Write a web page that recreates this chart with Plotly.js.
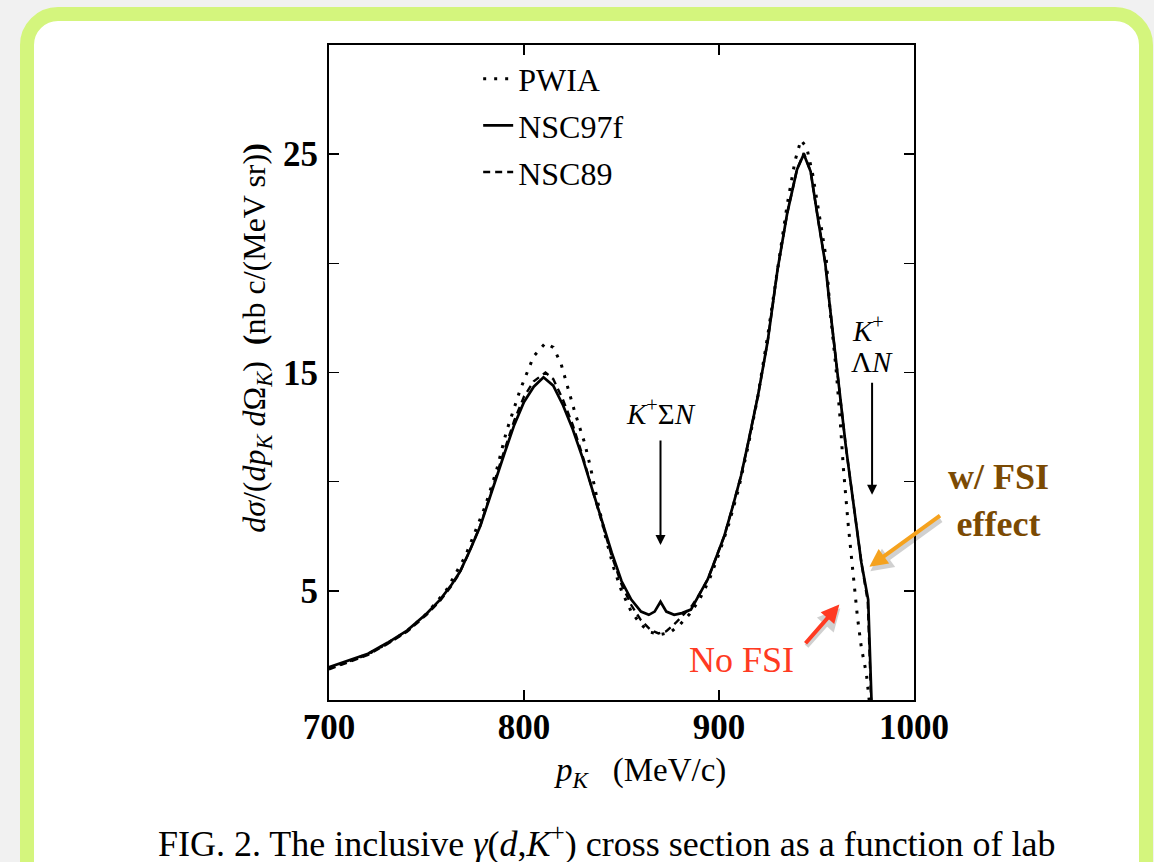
<!DOCTYPE html>
<html>
<head>
<meta charset="utf-8">
<script src="https://cdn.plot.ly/plotly-3.0.1.min.js"></script>
<style>
  html, body { margin: 0; padding: 0; width: 1154px; height: 862px; overflow: hidden; background: #f1f1f1; }
  #frame { position: absolute; left: 20px; top: 7px; width: 1105px; height: 920px;
           border: 14px solid #d4f57d; border-radius: 38px; background: #ffffff; }
  #chart { position: absolute; left: 0; top: 0; width: 1154px; height: 862px; }
</style>
</head>
<body>
<div id="frame"></div>
<div id="chart"></div>
<script>
// ---- data ----
const seriesNames = ["PWIA", "NSC97f", "NSC89"];

const pK_PWIA = [700,710,720,730,740,750,760,770,780,786,791,798,805,811,815,819,822,826,831,834,838,842,846,850,855,860,865,870,875,880,885,890,895,900,905,910,915,920,925,930,935,939,942,945,948,952,955,957,960,962,963.8,966.3,968.9,971,973,975.6,977];
const sig_PWIA = [1.45,1.78,2.1,2.6,3.15,3.95,5.0,6.6,8.85,10.55,12.3,14.2,15.75,16.35,16.15,15.4,14.45,13.2,11.8,10.7,9.0,7.4,6.05,5.0,4.05,3.45,3.1,3.0,3.1,3.45,3.95,4.6,5.5,6.7,8.05,9.65,11.65,13.95,16.7,19.8,22.7,24.7,25.65,25.3,24.1,21.9,20.2,17.8,15.2,13.0,10.6,8.0,5.5,3.8,2.4,1.2,0];

const pK_NSC97f = [700,710,720,730,740,750,757,763,767,772,777.6,782,786,790,795,800,805,810,815,820,825,830,835,840,845,850,855,860,864,867,870,873,877,881,885.6,890,894.2,898,902.7,907,911.3,915,920,925,930,935,940,943.5,947,951,954.5,957,959,960.5,962,963.5,965,967,970,973,976.5,977.5,978.2];
const sig_NSC97f = [1.5,1.82,2.12,2.62,3.18,3.95,4.6,5.3,5.85,6.8,7.97,9.15,10.25,11.3,12.6,13.65,14.35,14.78,14.4,13.5,12.4,11.1,9.65,8.2,6.75,5.45,4.6,4.05,3.9,4.05,4.5,4.05,3.9,3.98,4.14,4.85,5.52,6.4,7.51,8.85,10.27,11.8,13.95,16.45,19.7,22.3,24.3,25.0,24.2,21.9,20.0,17.9,16.3,15.1,13.9,12.75,11.65,10.3,8.3,6.3,4.6,2.0,0];

const pK_NSC89 = [700,710,720,730,740,750,757,763,767,772,777.6,782,786,790,795,800,805,811,815,820,825,830,835,840,845,850,855,860,865,869,873,878,882,886,890,894.2,898,902.7,907,911.3,915,920,925,930,935,940,943.5,947,951,954.5,957,959,960.5,962,963.5,965,967,970,973,976.3,977.3,978];
const sig_NSC89 = [1.4,1.75,2.07,2.57,3.13,3.9,4.55,5.25,5.82,6.8,7.99,9.2,10.35,11.45,12.8,13.9,14.6,15.0,14.7,13.75,12.6,11.2,9.65,8.1,6.6,5.3,4.35,3.65,3.2,3.05,3.15,3.55,3.95,4.3,4.85,5.52,6.4,7.51,8.85,10.27,11.8,13.95,16.45,19.7,22.3,24.3,25.05,24.2,21.9,20.0,17.9,16.3,15.1,13.9,12.75,11.65,10.3,8.3,6.3,4.5,2.0,0];

const xTickVals = [700, 800, 900, 1000];
const xTickText = ["700", "800", "900", "1000"];
const yTickVals = [5, 10, 15, 20, 25];
const yTickText = ["5", "", "15", "", "25"];

const SERIF = "Liberation Serif, Times New Roman, serif";

const traces = [
  { x: pK_NSC89, y: sig_NSC89, name: seriesNames[2], mode: "lines", legendgroup: "c", legendrank: 3,
    line: { color: "#000", width: 2.4, dash: "7px,5px" } },
  { x: pK_PWIA, y: sig_PWIA, name: seriesNames[0], mode: "lines", legendgroup: "a", legendrank: 1,
    line: { color: "#000", width: 3, dash: "3px,8px" } },
  { x: pK_NSC97f, y: sig_NSC97f, name: seriesNames[1], mode: "lines", legendgroup: "b", legendrank: 2,
    line: { color: "#000", width: 2.7 } }
];

const axisCommon = {
  showline: true, linecolor: "#000", linewidth: 2, mirror: "ticks",
  ticks: "inside", ticklen: 10, tickwidth: 1.5, tickcolor: "#000",
  showgrid: false, zeroline: false,
  tickfont: { family: SERIF, size: 35, color: "#000", weight: "bold" }
};

const layout = {
  width: 1154, height: 862,
  paper_bgcolor: "rgba(0,0,0,0)", plot_bgcolor: "rgba(0,0,0,0)",
  margin: { l: 329, r: 240, t: 45, b: 162 },
  showlegend: true,
  legend: {
    x: 0.255, y: 0.99, xanchor: "left", yanchor: "top",
    bgcolor: "rgba(0,0,0,0)", borderwidth: 0,
    font: { family: SERIF, size: 32, color: "#000" },
    traceorder: "grouped", tracegroupgap: 2
  },
  xaxis: Object.assign({}, axisCommon, {
    range: [700, 1000], tickmode: "array", tickvals: xTickVals, ticktext: xTickText,
    ticklabelstandoff: -5
  }),
  yaxis: Object.assign({}, axisCommon, {
    range: [0, 30], tickmode: "array", tickvals: yTickVals, ticktext: yTickText,
    ticklabelstandoff: 2
  }),
  annotations: [
    // axis titles
    { xref: "paper", yref: "paper", x: 0.5316, y: -0.111, xanchor: "center", yanchor: "middle", showarrow: false,
      text: "<i>p<sub>K</sub></i>   (MeV/c)", font: { family: SERIF, size: 33, color: "#000" } },
    { xref: "paper", yref: "paper", x: -0.123, y: 0.553, xanchor: "center", yanchor: "middle", showarrow: false, textangle: -90,
      text: "<i>dσ</i>/(<i>dp<sub>K</sub> d</i>Ω<sub><i>K</i></sub>)  <b>(</b>nb c/(MeV sr)<b>)</b>",
      font: { family: SERIF, size: 32, color: "#000" } },
    // threshold labels and arrows
    { x: 870, y: 13.2, showarrow: false, text: "<i>K</i><sup>+</sup>Σ<i>N</i>",
      font: { family: SERIF, size: 29, color: "#000" } },
    { x: 870, y: 7.1, ax: 870, ay: 11.95, axref: "x", ayref: "y", text: "", showarrow: true,
      arrowhead: 2, arrowsize: 1, arrowwidth: 2, arrowcolor: "#000" },
    { x: 976.5, y: 17.0, showarrow: false, text: "<i>K</i><sup>+</sup>",
      font: { family: SERIF, size: 29, color: "#000" } },
    { x: 978.5, y: 15.5, showarrow: false, text: "Λ<i>N</i>",
      font: { family: SERIF, size: 29, color: "#000" } },
    { x: 978.5, y: 9.4, ax: 978.5, ay: 14.6, axref: "x", ayref: "y", text: "", showarrow: true,
      arrowhead: 2, arrowsize: 1, arrowwidth: 2, arrowcolor: "#000" },
    // FSI call-outs (shadow then arrow)
    { x: 977.6, y: 5.9, ax: 1014.6, ay: 8.3, axref: "x", ayref: "y", text: "", showarrow: true,
      arrowhead: 2, arrowsize: 0.9, arrowwidth: 5, arrowcolor: "rgba(0,0,0,0.18)" },
    { x: 977.1, y: 6.1, ax: 1014.1, ay: 8.5, axref: "x", ayref: "y", text: "", showarrow: true,
      arrowhead: 2, arrowsize: 0.9, arrowwidth: 4, arrowcolor: "#f5a21e" },
    { xref: "paper", yref: "paper", x: 1.1436, y: 0.3053, xanchor: "center", yanchor: "middle", showarrow: false,
      text: "<b>w/ FSI<br>effect</b>",
      font: { family: SERIF, size: 36, color: "#7b4a03" } },
    { x: 962.2, y: 4.2, ax: 944.2, ay: 2.4, axref: "x", ayref: "y", text: "", showarrow: true,
      arrowhead: 2, arrowsize: 0.9, arrowwidth: 5, arrowcolor: "rgba(0,0,0,0.18)" },
    { x: 961.7, y: 4.37, ax: 943.7, ay: 2.53, axref: "x", ayref: "y", text: "", showarrow: true,
      arrowhead: 2, arrowsize: 0.9, arrowwidth: 4, arrowcolor: "#ff3a22" },
    { x: 911.3, y: 1.84, showarrow: false, text: "No FSI",
      font: { family: SERIF, size: 36, color: "#ff3a22" } },
    // caption
    { xref: "paper", yref: "paper", x: 0.475, y: -0.216, xanchor: "center", yanchor: "middle", showarrow: false,
      text: "FIG. 2. The inclusive <i>γ</i>(<i>d</i>,<i>K</i><sup>+</sup>) cross section as a function of lab",
      font: { family: SERIF, size: 36, color: "#000" } }
  ]
};

Plotly.newPlot("chart", traces, layout, { displayModeBar: false, staticPlot: true });
</script>
</body>
</html>
